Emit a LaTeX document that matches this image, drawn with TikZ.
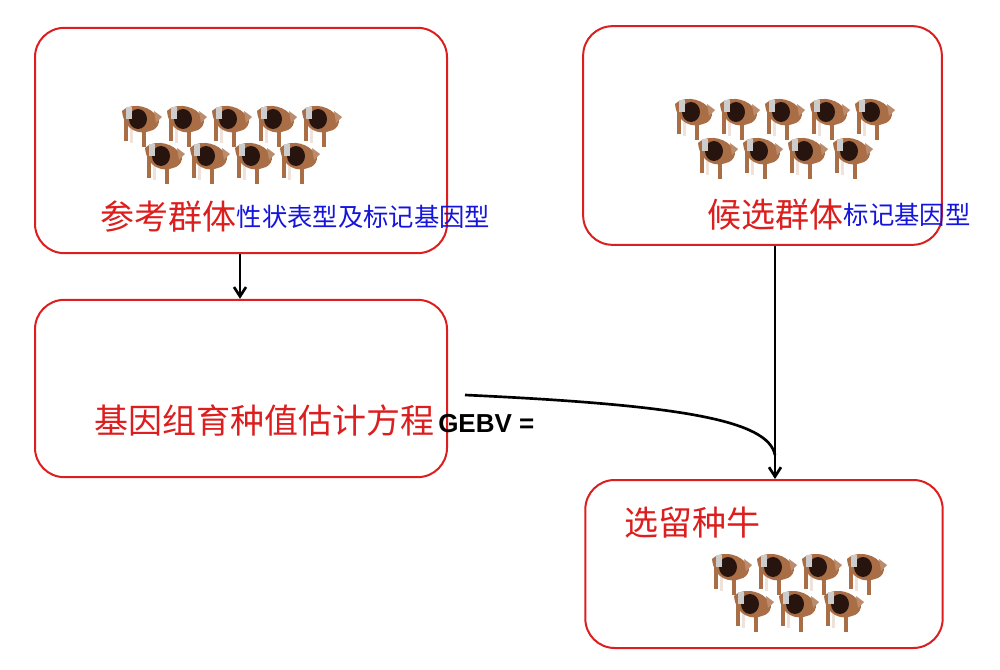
\documentclass[tikz,border=0pt]{standalone}
\usepackage{fontspec}
\newfontfamily\cjk{Noto Sans CJK SC}
\setsansfont{Liberation Sans}
\usetikzlibrary{arrows.meta}
\definecolor{boxred}{RGB}{220,30,30}
\definecolor{txtblue}{RGB}{20,20,220}
\definecolor{cowbrown}{RGB}{170,110,70}
\definecolor{cowdark}{RGB}{40,20,15}
\tikzset{
  groupbox/.style={draw=boxred, line width=1.5pt, rounded corners=22pt, inner sep=0pt},
  redtxt/.style={text=boxred, font=\cjk\fontsize{25.5}{28}\selectfont, inner sep=0pt},
  bluetxt/.style={text=txtblue, font=\cjk\fontsize{19}{21}\selectfont, inner sep=0pt},
  flow/.style={line width=2pt, -{Straight Barb[length=7pt,width=9pt]}}
}
% a small cow at (#1,#2)
\newcommand{\cowat}[2]{%
  \begin{scope}[shift={(#1,#2)}]
    \fill[cowbrown] (-16,-8) rectangle (-12,16);
    \fill[white!80!cowbrown] (-10,0) rectangle (-7,18);
    \fill[cowbrown] (2,2) rectangle (6,22);
    \fill[cowbrown] (-18,-14) .. controls (-10,-22) and (6,-20) .. (14,-12) .. controls (22,-8) and (20,4) .. (10,6) .. controls (0,10) and (-16,6) .. (-18,-14) -- cycle;
    \fill[cowdark] (-2,-6) ellipse (9 and 10);
    \fill[gray!40] (-14,-18) rectangle (-8,-6);
    \fill[cowbrown!80] (14,-14) -- (22,-8) -- (16,-2) -- cycle;
  \end{scope}}
\begin{document}
\begin{tikzpicture}[x=0.75pt,y=0.75pt,yscale=-1,xscale=1]
\useasboundingbox (0,0) rectangle (1000,670);

% boxes
\node[groupbox, minimum width=309pt, minimum height=169pt] (ref) at (241,140.5) {};
\node[groupbox, minimum width=269pt, minimum height=164pt] (cand) at (762.5,135.5) {};
\node[groupbox, minimum width=309pt, minimum height=133pt] (eq) at (241,388.5) {};
\node[groupbox, minimum width=268pt, minimum height=126pt] (sel) at (764,564) {};

% cows
\foreach \x in {140,185,230,275,320} {\cowat{\x}{125}}
\foreach \x in {163,208,253,298} {\cowat{\x}{162}}
\foreach \x in {693,738,783,828,873} {\cowat{\x}{118}}
\foreach \x in {716,761,806,851} {\cowat{\x}{157}}
\foreach \x in {730,775,820,865} {\cowat{\x}{573}}
\foreach \x in {752,797,842} {\cowat{\x}{610}}

% texts
\node[redtxt, anchor=west] (reft) at (100,217) {参考群体};
\node[bluetxt, anchor=west] (refb) at (reft.east) {性状表型及标记基因型};
\node[redtxt, anchor=west] (candt) at (707,215) {候选群体};
\node[bluetxt, anchor=west] (candb) at (candt.east) {标记基因型};
\node[redtxt, anchor=west] (eqt) at (94,420) {基因组育种值估计方程};
\node[anchor=west, inner sep=0pt, font=\sffamily\bfseries\fontsize{19.5}{21}\selectfont] (gebv) at (438,424) {GEBV =};
\node[redtxt, anchor=west] (selt) at (624,523) {选留种牛};

% connectors
\coordinate (cstart) at (465,395);
\draw[flow] (ref.south -| 240,0) -- (eq.north -| 240,0);
\draw[flow] (cand.south -| 775,0) -- (sel.north -| 775,0);
\draw[line width=2pt] (cstart) .. controls (680,405) and (768,420) .. (775,455);
\end{tikzpicture}
\end{document}
